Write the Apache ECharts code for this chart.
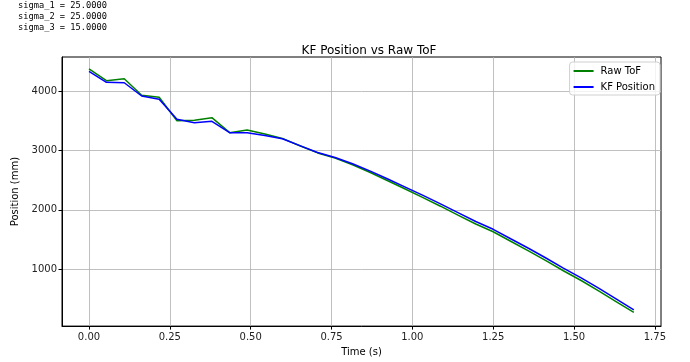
<!DOCTYPE html>
<html>
<head>
<meta charset="utf-8">
<script src="https://cdn.jsdelivr.net/npm/echarts@6/dist/echarts.min.js"></script>
<style>html,body{margin:0;padding:0;background:#fff}#c{width:690px;height:362px}</style>
</head>
<body>
<div id="c"></div>
<script>
const times = [0.000,0.054,0.109,0.163,0.217,0.272,0.326,0.380,0.435,0.489,0.544,0.598,0.652,0.707,0.761,0.815,0.870,0.924,0.978,1.033,1.087,1.141,1.196,1.250,1.304,1.359,1.413,1.467,1.522,1.576,1.630,1.685];
const rawTof = [4381,4179,4212,3933,3899,3504,3511,3555,3302,3347,3280,3205,3080,2960,2875,2760,2630,2490,2350,2205,2060,1910,1760,1628,1468,1305,1140,970,805,630,450,265];
const kfPos = [4337,4152,4145,3921,3865,3528,3471,3494,3302,3302,3255,3199,3084,2966,2882,2776,2653,2519,2382,2242,2099,1952,1802,1670,1510,1350,1185,1015,850,675,495,310];
const xTicks = [0,0.25,0.5,0.75,1.0,1.25,1.5,1.75];
const yTicks = [1000,2000,3000,4000];
const sigmaLines = ['sigma_1 = 25.0000','sigma_2 = 25.0000','sigma_3 = 15.0000'];

const chart = echarts.init(document.getElementById('c'));
const font = 'DejaVu Sans';
chart.setOption({
  animation: false,
  backgroundColor: '#fff',
  title: {
    text: 'KF Position vs Raw ToF', left: 364, top: 40, textAlign: 'center',
    textStyle: {fontFamily: font, fontSize: 12, fontWeight: 'normal', color: '#000'}
  },
  graphic: sigmaLines.map((s, i) => ({
    type: 'text', left: 18, top: 1 + i * 11,
    style: {text: s, font: '8.7px "DejaVu Sans Mono"', fill: '#000'}
  })),
  legend: {
    right: 30, top: 62, orient: 'vertical',
    backgroundColor: 'rgba(255,255,255,0.8)', borderColor: '#d0d0d0', borderWidth: 1, borderRadius: 3,
    padding: [4, 5, 3, 4], itemGap: 6, itemWidth: 20, itemHeight: 2, icon: 'rect',
    textStyle: {fontFamily: font, fontSize: 10, color: '#000', padding: [0, 0, 0, 2]},
    data: ['Raw ToF', 'KF Position']
  },
  grid: {left: 62, right: 29, top: 57, bottom: 35, show: true, borderColor: '#000', borderWidth: 1, backgroundColor: 'transparent'},
  xAxis: {
    type: 'value', min: -0.0835, max: 1.769,
    name: 'Time (s)', nameLocation: 'middle', nameGap: 20,
    nameTextStyle: {fontFamily: font, fontSize: 10, color: '#000'},
    axisLine: {show: true, onZero: false, lineStyle: {color: '#000', width: 1}},
    axisTick: {show: true, inside: false, length: 3.5, lineStyle: {color: '#000'}, customValues: xTicks},
    axisLabel: {customValues: xTicks, formatter: v => v.toFixed(2), fontFamily: font, fontSize: 10, color: '#222', margin: 6},
    splitLine: {show: true, lineStyle: {color: '#b0b0b0', width: 0.8}}
  },
  yAxis: {
    type: 'value', min: 35, max: 4580,
    name: 'Position (mm)', nameLocation: 'middle', nameGap: 35, nameRotate: 90,
    nameTextStyle: {fontFamily: font, fontSize: 10, color: '#000'},
    axisLine: {show: true, onZero: false, lineStyle: {color: '#000', width: 1}},
    axisTick: {show: true, inside: false, length: 3.5, lineStyle: {color: '#000'}, customValues: yTicks},
    axisLabel: {customValues: yTicks, formatter: v => String(v), fontFamily: font, fontSize: 10, color: '#222', margin: 5},
    splitLine: {show: true, lineStyle: {color: '#b0b0b0', width: 0.8}}
  },
  series: [
    {name: 'Raw ToF', type: 'line', symbol: 'none', data: times.map((t, i) => [t, rawTof[i]]),
     lineStyle: {color: '#008000', width: 1.5}, itemStyle: {color: '#008000'}},
    {name: 'KF Position', type: 'line', symbol: 'none', data: times.map((t, i) => [t, kfPos[i]]),
     lineStyle: {color: '#0000ff', width: 1.5}, itemStyle: {color: '#0000ff'}}
  ]
});
</script>
</body>
</html>
